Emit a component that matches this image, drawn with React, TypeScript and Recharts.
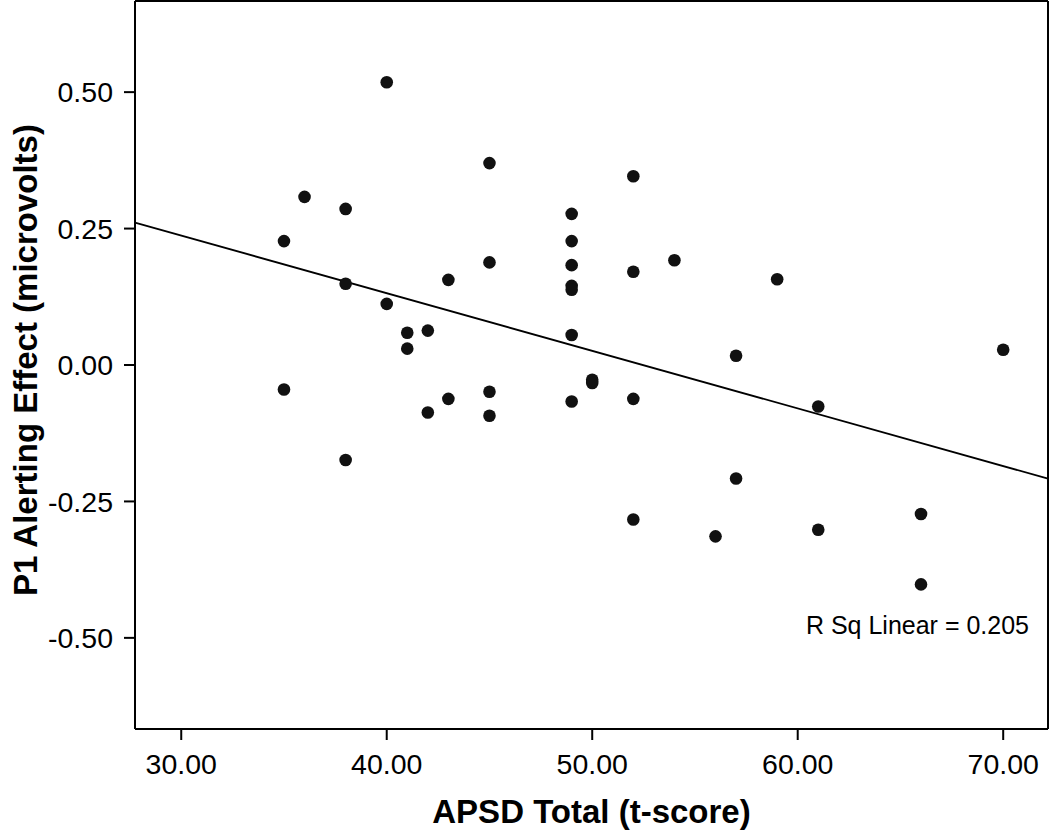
import React from "react";
import {
  ScatterChart,
  Scatter,
  XAxis,
  YAxis,
  ReferenceLine,
  Label,
  Customized,
} from "recharts";

// APSD total (t-score) for each subject
const apsd = [
  35, 35, 36, 38, 38, 38, 40, 40, 41, 41, 42, 42, 43, 43, 45, 45, 45, 45, 49, 49,
  49, 49, 49, 49, 49, 50, 50, 52, 52, 52, 52, 54, 56, 57, 57, 59, 61, 61, 66, 66, 70,
];

// P1 alerting effect (microvolts), same order
const p1 = [
  0.227, -0.045, 0.308, 0.286, 0.149, -0.174, 0.518, 0.112, 0.059, 0.03, 0.063,
  -0.087, 0.156, -0.062, 0.37, 0.188, -0.049, -0.093, 0.277, 0.227, 0.183, 0.145,
  0.138, 0.055, -0.067, -0.027, -0.033, 0.346, 0.171, -0.062, -0.283, 0.192,
  -0.314, 0.017, -0.208, 0.157, -0.076, -0.302, -0.273, -0.402, 0.028,
];

const xTicks = [30, 40, 50, 60, 70];
const yTicks = [-0.5, -0.25, 0, 0.25, 0.5];
const xDomain = [27.75, 72.18];
const yDomain = [-0.667, 0.667];

// fit line
const fitSlope = -0.01056;
const fitIntercept = 0.554;
const rSqText = "R Sq Linear = 0.205";

const points = apsd.map((x, i) => ({ x, y: p1[i] }));
const fit = (x: number) => fitIntercept + fitSlope * x;

const FONT = "'Liberation Sans', Arial, Helvetica, sans-serif";
const INK = "#000";

const Dot = (props: any) => <circle cx={props.cx} cy={props.cy} r={6.3} fill="#111" />;

export default function App() {
  return (
    <div style={{ position: "absolute", left: 0, top: 0, background: "#fff" }}>
      <ScatterChart
        width={1050}
        height={832}
        margin={{ top: 1, right: 2, bottom: 0, left: 0 }}
        style={{ fontFamily: FONT }}
      >
        <XAxis
          type="number"
          dataKey="x"
          domain={xDomain}
          ticks={xTicks}
          allowDataOverflow
          height={103}
          tickSize={11}
          tickMargin={14}
          tickFormatter={(v: number) => v.toFixed(2)}
          tick={{ fill: INK, fontSize: 28.5 }}
          axisLine={{ stroke: INK, strokeWidth: 2 }}
          tickLine={{ stroke: INK, strokeWidth: 2 }}
        >
          <Label
            value="APSD Total (t-score)"
            position="insideBottom"
            offset={9}
            style={{ fill: INK, fontSize: 33, fontWeight: "bold" }}
          />
        </XAxis>
        <YAxis
          type="number"
          dataKey="y"
          domain={yDomain}
          ticks={yTicks}
          allowDataOverflow
          width={135}
          tickSize={11}
          tickMargin={11}
          tickFormatter={(v: number) => v.toFixed(2)}
          tick={{ fill: INK, fontSize: 28.5 }}
          axisLine={{ stroke: INK, strokeWidth: 2 }}
          tickLine={{ stroke: INK, strokeWidth: 2 }}
        >
          <Label
            content={() => (
              <text
                transform="translate(37,360) rotate(-90)"
                textAnchor="middle"
                fill={INK}
                fontSize={33}
                fontWeight="bold"
                fontFamily={FONT}
              >
                P1 Alerting Effect (microvolts)
              </text>
            )}
          />
        </YAxis>
        <ReferenceLine y={yDomain[1]} stroke={INK} strokeWidth={2} ifOverflow="visible" />
        <ReferenceLine x={xDomain[1]} stroke={INK} strokeWidth={2} ifOverflow="visible" />
        <ReferenceLine
          segment={[
            { x: xDomain[0], y: fit(xDomain[0]) },
            { x: xDomain[1], y: fit(xDomain[1]) },
          ]}
          stroke={INK}
          strokeWidth={1.8}
          ifOverflow="visible"
        />
        <Scatter data={points} shape={Dot} isAnimationActive={false} />
        <Customized
          component={() => (
            <text x={1029} y={634} textAnchor="end" fill={INK} fontSize={25} fontFamily={FONT}>
              {rSqText}
            </text>
          )}
        />
      </ScatterChart>
    </div>
  );
}
